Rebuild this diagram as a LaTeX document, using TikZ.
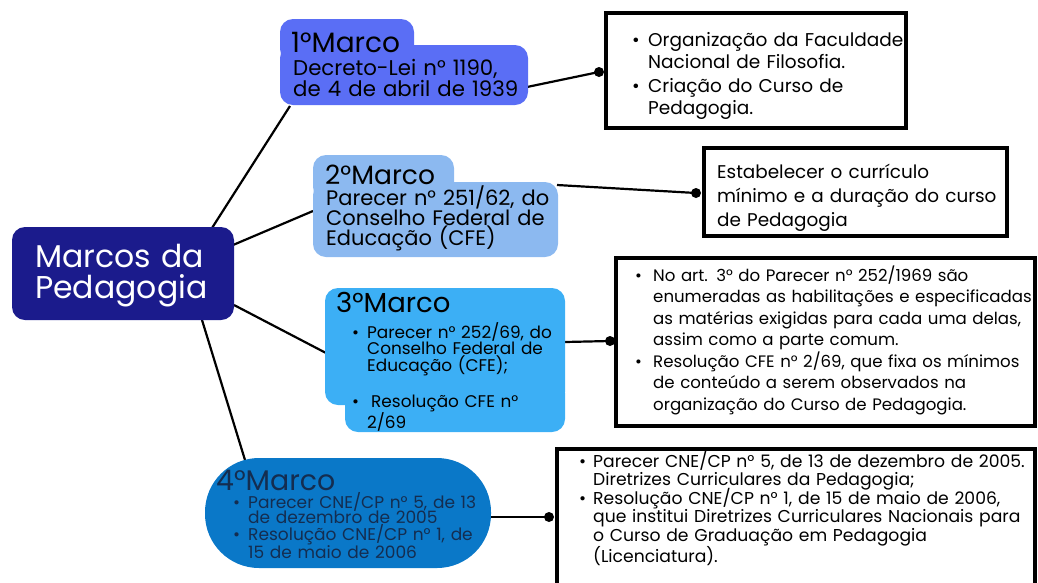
\documentclass[tikz,border=0pt]{standalone}
\usepackage{fontspec}
\setmainfont{Poppins}
\definecolor{cCen}{RGB}{27,27,140}
\definecolor{cOne}{RGB}{90,110,245}
\definecolor{cTwo}{RGB}{140,185,240}
\definecolor{cThr}{RGB}{60,175,245}
\definecolor{cFou}{RGB}{10,120,200}
\definecolor{txFou}{RGB}{20,45,80}
\newcommand\fs[2]{\fontsize{#1pt}{#2pt}\selectfont}
% bullet item: #1 indent, #2 lines
\newcommand\bitem[2]{\makebox[#1][l]{•}\parbox[t]{500pt}{#2}}
\tikzset{
  blob/.style={fill=#1, draw=none, rounded corners=13pt},
  txt/.style={inner sep=0pt, anchor=base west, align=left, text width=#1},
  tbox/.style={draw=black, line width=3.5pt, fill=white},
  link/.style={line width=2.2pt, black},
  dotend/.style={circle, fill=black, inner sep=0pt, minimum size=10pt}
}
\begin{document}
\begin{tikzpicture}[x=1pt,y=-1pt]
\useasboundingbox (0,0) rectangle (1038,582);
% connector end points
\coordinate (c1) at (212,228);
\coordinate (m1in) at (290,106);
\coordinate (c2) at (233,245);
\coordinate (m2in) at (313,211);
\coordinate (c3) at (234,305);
\coordinate (m3in) at (326,353);
\coordinate (c4) at (202,320);
\coordinate (m4in) at (245,460);
\coordinate (m1out) at (527,87);
\coordinate (m2out) at (557,185);
\coordinate (m3out) at (565,342);
\coordinate (m4out) at (490,517);
% links center
\draw[link] (c1) -- (m1in);
\draw[link] (c2) -- (m2in);
\draw[link] (c3) -- (m3in);
\draw[link] (c4) -- (m4in);
% text boxes
\draw[tbox] (606,13) rectangle (906,128);
\draw[tbox] (704,148) rectangle (1007,236);
\draw[tbox] (616,258) rectangle (1035,426);
\draw[tbox] (557,449) rectangle (1035,590);
\node[dotend] (d1) at (599,72) {};
\node[dotend] (d2) at (696,193) {};
\node[dotend] (d3) at (610,341) {};
\node[dotend] (d4) at (549,517) {};
\draw[link] (m1out) -- (d1.center);
\draw[link] (m2out) -- (d2.center);
\draw[link] (m3out) -- (d3.center);
\draw[link] (m4out) -- (d4.center);
% central
\fill[blob=cCen] (12,227) rectangle (234,320);
\node[txt=210pt, text=white, font=\fs{31.5}{31}] (cen) at (35,267) {Marcos da\newline Pedagogia};
% marco 1
\fill[blob=cOne] (280,19) rectangle (414,62);
\fill[blob=cOne] (280,45) rectangle (528,105);
\fill[cOne] (400,45) rectangle (414,62);
\node[txt=240pt, font=\fs{28}{26}] (m1t) at (291,52) {1°Marco};
\node[txt=240pt, font=\fs{21.3}{21}] (m1b) at (293,75) {Decreto-Lei n° 1190,\newline de 4 de abril de 1939};
% marco 2
\fill[blob=cTwo] (313,155) rectangle (454,200);
\fill[blob=cTwo] (313,182) rectangle (558,257);
\fill[cTwo] (440,182) rectangle (454,200);
\node[txt=240pt, font=\fs{26.5}{26}] (m2t) at (325,184) {2°Marco};
\node[txt=240pt, font=\fs{21}{20.3}] (m2b) at (326,205) {Parecer n° 251/62, do\newline Conselho Federal de\newline Educação (CFE)};
% marco 3
\fill[blob=cThr] (325,288) rectangle (565,405);
\fill[blob=cThr] (345,380) rectangle (565,432);
\fill[cThr] (345,380) rectangle (365,405);
\node[txt=240pt, font=\fs{27.5}{26}] (m3t) at (336,312) {3°Marco};
\node[txt=220pt, font=\fs{16.9}{16.8}] (m3a) at (352,338) {\bitem{15pt}{Parecer n° 252/69, do\newline Conselho Federal de\newline Educação (CFE);}};
\node[txt=220pt, font=\fs{16.9}{15.5}] (m3b) at (352,407) {\bitem{15pt}{\hspace*{4pt}Resolução CFE n°\newline 2/69}};
% marco 4
\fill[fill=cFou, rounded corners=54pt] (205,458) rectangle (491,568);
\node[txt=260pt, font=\fs{28.4}{25}, text=txFou] (m4t) at (216,490) {4°Marco};
\node[txt=260pt, font=\fs{17}{15.5}, text=txFou] (m4a) at (233,508) {\bitem{15pt}{Parecer CNE/CP n° 5, de 13\newline de dezembro de 2005}};
\node[txt=260pt, font=\fs{17}{15.5}, text=txFou] (m4b) at (233,540) {\bitem{15pt}{Resolução CNE/CP n° 1, de\newline 15 de maio de 2006}};
% box texts
\node[txt=280pt, font=\fs{18.5}{22.5}] (b1a) at (632,46) {\bitem{16pt}{Organização da Faculdade\newline Nacional de Filosofia.}};
\node[txt=280pt, font=\fs{18.5}{22.5}] (b1b) at (632,92) {\bitem{16pt}{Criação do Curso de\newline Pedagogia.}};
\node[txt=295pt, font=\fs{18.4}{24}] (b2) at (717,178) {Estabelecer o currículo\newline mínimo e a duração do curso\newline de Pedagogia};
\node[txt=400pt, font=\fs{16.6}{21.5}] (b3a) at (635,281) {\bitem{18pt}{No art. 3° do Parecer n° 252/1969 são\newline enumeradas as habilitações e especificadas\newline as matérias exigidas para cada uma delas,\newline assim como a parte comum.}};
\node[txt=400pt, font=\fs{16.6}{21.5}] (b3b) at (635,367) {\bitem{18pt}{Resolução CFE n° 2/69, que fixa os mínimos\newline de conteúdo a serem observados na\newline organização do Curso de Pedagogia.}};
\node[txt=470pt, font=\fs{17.2}{18.6}] (b4a) at (579,467) {\bitem{14pt}{Parecer CNE/CP n° 5, de 13 de dezembro de 2005.\newline Diretrizes Curriculares da Pedagogia;}};
\node[txt=470pt, font=\fs{17.2}{18.6}] (b4b) at (579,504) {\bitem{14pt}{Resolução CNE/CP n° 1, de 15 de maio de 2006,\newline que institui Diretrizes Curriculares Nacionais para\newline o Curso de Graduação em Pedagogia\newline (Licenciatura).}};
\end{tikzpicture}
\end{document}
